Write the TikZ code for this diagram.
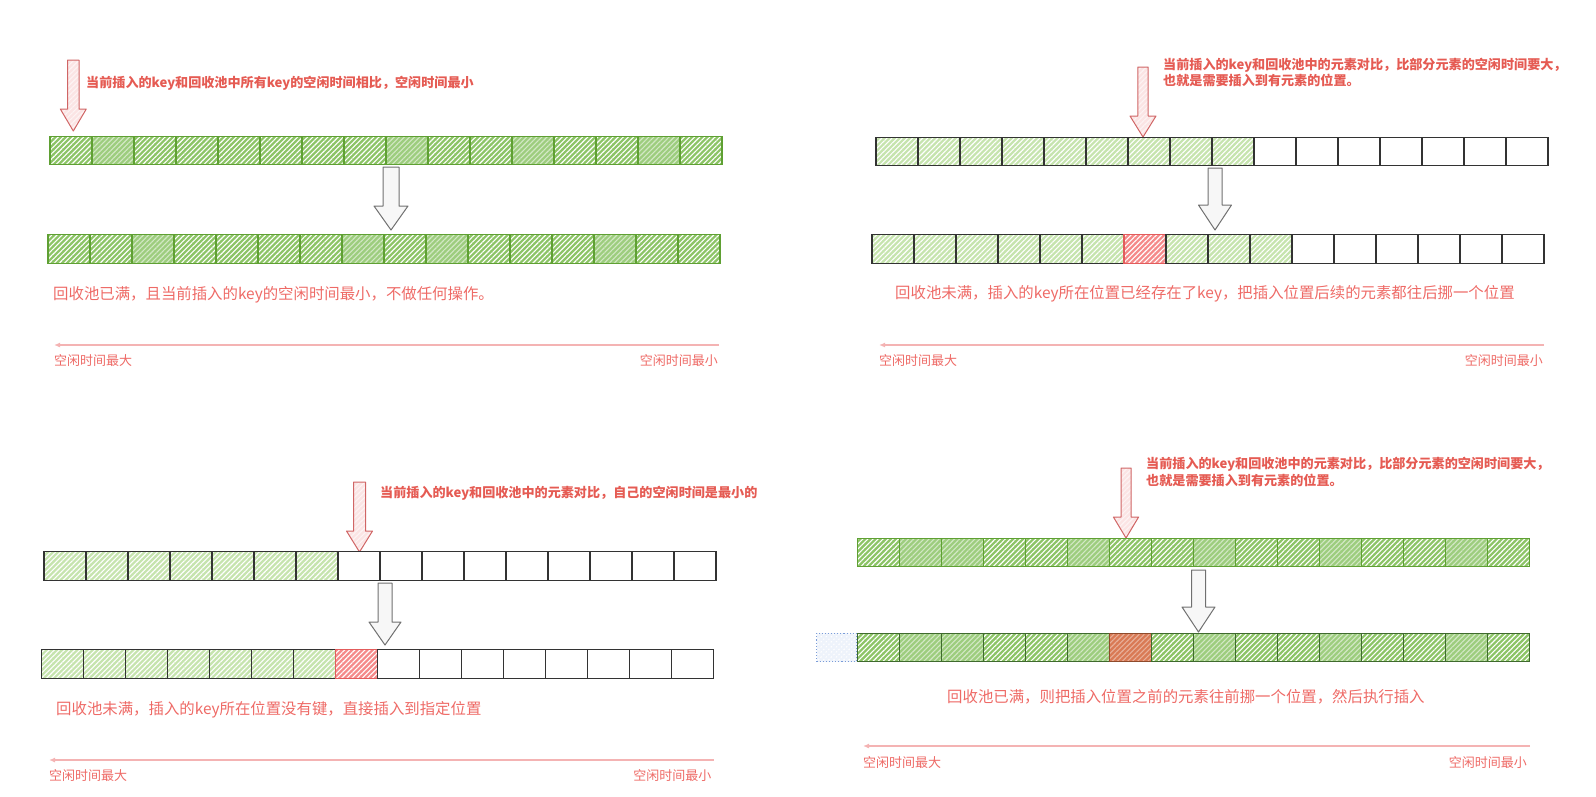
\documentclass[tikz,border=0pt]{standalone}
\usepackage{fontspec}
\setmainfont{Noto Sans CJK SC}
\usetikzlibrary{arrows.meta,positioning,patterns.meta}

\definecolor{txtred}{HTML}{E55B53}
\definecolor{descred}{HTML}{EE6A66}
\definecolor{axisred}{HTML}{F4B3B3}
\definecolor{cgreen}{HTML}{5FA033}
\definecolor{cgreenfill}{HTML}{8CC466}
\definecolor{cgreensolid}{HTML}{9DCD7E}
\definecolor{cdarkline}{HTML}{3F6A2E}
\definecolor{clightfill}{HTML}{C6E4AE}
\definecolor{cgrayline}{HTML}{333333}
\definecolor{credline}{HTML}{E25C5C}
\definecolor{credfill}{HTML}{F58A8A}
\definecolor{cbrownline}{HTML}{8E4B2C}
\definecolor{cbrownfill}{HTML}{D97A55}
\definecolor{cghostline}{HTML}{7A9CD8}
\definecolor{cghostfill}{HTML}{EEF3FB}
\definecolor{arrowred}{HTML}{D06565}
\definecolor{arrowredfill}{HTML}{FBE4E4}
\definecolor{arrowgray}{HTML}{707070}

% one row of cells: name, left x, centre y, list of cell styles
\newcommand{\cellrow}[4]{%
  \coordinate (#1-0) at (#2,#3);
  \foreach \s [count=\i, remember=\i as \j (initially 0)] in {#4}
    \node[cell,\s,right=0pt of #1-\j] (#1-\i) {};
}
% block arrow: style, centre x, top, head start, tip, shaft half, head half
\newcommand{\blockarrow}[7]{%
  \draw[#1] (#2-#6,#3) -- (#2+#6,#3) -- (#2+#6,#4) -- (#2+#7,#4)
    -- (#2,#5) -- (#2-#7,#4) -- (#2-#6,#4) -- cycle;
}

\begin{document}
\begin{tikzpicture}[x=1pt, y=-1pt,
    cell/.style={draw, rectangle, minimum width=42pt, minimum height=28.5pt,
                 inner sep=0pt, outer sep=0pt, line width=1.1pt},
    hatch/.style={pattern={Lines[angle=45,distance=3.6pt,line width=1.1pt]}},
    dgcell/.style={draw=cgreen, preaction={fill=cgreenfill}, hatch, pattern color=white},
    dgsolid/.style={draw=cgreen, preaction={fill=cgreensolid}, hatch, pattern color=white!55!cgreensolid},
    dgdark/.style={draw=cdarkline, preaction={fill=cgreenfill}, hatch, pattern color=white},
    dgdarksolid/.style={draw=cdarkline, preaction={fill=cgreensolid}, hatch, pattern color=white!55!cgreensolid},
    lgcell/.style={draw=cgrayline, preaction={fill=clightfill}, hatch, pattern color=white},
    emptycell/.style={draw=cgrayline, fill=white},
    redcell/.style={draw=credline, preaction={fill=credfill}, hatch, pattern color=white},
    browncell/.style={draw=cbrownline, preaction={fill=cbrownfill}, hatch, pattern color=white!40!cbrownfill},
    ghostcell/.style={cell, draw=cghostline, dotted, minimum width=40pt,
                      preaction={fill=cghostfill}, hatch, pattern color=white},
    redarr/.style={draw=arrowred, line width=1pt, preaction={fill=arrowredfill},
                   hatch, pattern color=white!60!arrowredfill, line join=round},
    grayarr/.style={draw=arrowgray, line width=1pt, fill=white!97!black, line join=round},
    axisline/.style={draw=axisred, line width=1.6pt, -{Latex[length=6pt,width=5pt]}},
    notetxt/.style={text=txtred, font=\fontsize{13.1}{16.5}\selectfont\bfseries, align=left, inner sep=0pt},
    desctxt/.style={text=descred, font=\fontsize{15.4}{18}\selectfont, inner sep=0pt},
    axistxt/.style={text=descred, font=\fontsize{13}{15}\selectfont, inner sep=0pt}]
  \useasboundingbox (0,0) rectangle (1596,796);

  % panel 1: pool full, new key is the smallest
  \blockarrow{redarr}{73.3}{60}{109}{131}{5.7}{13}
  \node[notetxt, anchor=west] (p1note) at (86,83) {当前插入的key和回收池中所有key的空闲时间相比，空闲时间最小};
  \cellrow{p1top}{50}{150.5}{dgcell,dgsolid,dgcell,dgcell,dgcell,dgcell,dgcell,dgcell,dgsolid,dgcell,dgcell,dgsolid,dgcell,dgcell,dgsolid,dgcell}
  \blockarrow{grayarr}{391}{167}{206}{230}{8}{17}
  \cellrow{p1bot}{48}{249}{dgcell,dgcell,dgsolid,dgcell,dgcell,dgcell,dgcell,dgsolid,dgcell,dgsolid,dgcell,dgcell,dgcell,dgsolid,dgcell,dgcell}
  \node[desctxt, anchor=west] (p1desc) at (53,295) {回收池已满，且当前插入的key的空闲时间最小，不做任何操作。};
  \coordinate (p1axr) at (719,345);
  \coordinate (p1axl) at (54,345);
  \draw[axisline] (p1axr) -- (p1axl);
  \node[axistxt, anchor=west] (p1max) at (54,361) {空闲时间最大};
  \node[axistxt, anchor=east] (p1min) at (718,361) {空闲时间最小};

  % panel 2: pool not full, position already taken
  \blockarrow{redarr}{1143}{67}{116}{137}{5.2}{13}
  \node[notetxt, anchor=west] (p2note) at (1163,72.5) {当前插入的key和回收池中的元素对比，比部分元素的空闲时间要大，\\也就是需要插入到有元素的位置。};
  \cellrow{p2top}{876}{151.5}{lgcell,lgcell,lgcell,lgcell,lgcell,lgcell,lgcell,lgcell,lgcell,emptycell,emptycell,emptycell,emptycell,emptycell,emptycell,emptycell}
  \blockarrow{grayarr}{1215}{168}{205}{230}{7}{16.5}
  \cellrow{p2bot}{872}{249}{lgcell,lgcell,lgcell,lgcell,lgcell,lgcell,redcell,lgcell,lgcell,lgcell,emptycell,emptycell,emptycell,emptycell,emptycell,emptycell}
  \node[desctxt, anchor=west] (p2desc) at (895,294) {回收池未满，插入的key所在位置已经存在了key，把插入位置后续的元素都往后挪一个位置};
  \coordinate (p2axr) at (1544,345);
  \coordinate (p2axl) at (879,345);
  \draw[axisline] (p2axr) -- (p2axl);
  \node[axistxt, anchor=west] (p2max) at (879,361) {空闲时间最大};
  \node[axistxt, anchor=east] (p2min) at (1543,361) {空闲时间最小};

  % panel 3: pool not full, position free
  \blockarrow{redarr}{359.5}{482}{531}{552}{6}{13}
  \node[notetxt, anchor=west] (p3note) at (380,493) {当前插入的key和回收池中的元素对比，自己的空闲时间是最小的};
  \cellrow{p3top}{44}{566}{lgcell,lgcell,lgcell,lgcell,lgcell,lgcell,lgcell,emptycell,emptycell,emptycell,emptycell,emptycell,emptycell,emptycell,emptycell,emptycell}
  \blockarrow{grayarr}{385}{583}{622}{645}{7}{16}
  \cellrow{p3bot}{41.5}{664}{lgcell,lgcell,lgcell,lgcell,lgcell,lgcell,lgcell,redcell,emptycell,emptycell,emptycell,emptycell,emptycell,emptycell,emptycell,emptycell}
  \node[desctxt, anchor=west] (p3desc) at (56,709.5) {回收池未满，插入的key所在位置没有键，直接插入到指定位置};
  \coordinate (p3axr) at (713.6,760);
  \coordinate (p3axl) at (49,760);
  \draw[axisline] (p3axr) -- (p3axl);
  \node[axistxt, anchor=west] (p3max) at (49,775.6) {空闲时间最大};
  \node[axistxt, anchor=east] (p3min) at (711.5,775.6) {空闲时间最小};

  % panel 4: pool full, shift older ones forward
  \blockarrow{redarr}{1126}{468}{517}{538}{5}{12.6}
  \node[notetxt, anchor=west] (p4note) at (1146,472) {当前插入的key和回收池中的元素对比，比部分元素的空闲时间要大，\\也就是需要插入到有元素的位置。};
  \cellrow{p4top}{857.6}{552.5}{dgcell,dgsolid,dgsolid,dgcell,dgcell,dgsolid,dgcell,dgcell,dgsolid,dgcell,dgcell,dgsolid,dgcell,dgcell,dgsolid,dgcell}
  \blockarrow{grayarr}{1198.5}{570}{607}{632}{7}{16.5}
  \cellrow{p4bot}{857.6}{647.5}{dgdark,dgdarksolid,dgdarksolid,dgdark,dgdark,dgdarksolid,browncell,dgdark,dgdarksolid,dgdark,dgdark,dgdarksolid,dgdark,dgdark,dgdarksolid,dgdark}
  \node[ghostcell, left=1pt of p4bot-1] (p4ghost) {};
  \node[desctxt, anchor=west] (p4desc) at (947,696.7) {回收池已满，则把插入位置之前的元素往前挪一个位置，然后执行插入};
  \coordinate (p4axr) at (1530,746);
  \coordinate (p4axl) at (863,746);
  \draw[axisline] (p4axr) -- (p4axl);
  \node[axistxt, anchor=west] (p4max) at (863,762.7) {空闲时间最大};
  \node[axistxt, anchor=east] (p4min) at (1527,762.7) {空闲时间最小};
\end{tikzpicture}
\end{document}
